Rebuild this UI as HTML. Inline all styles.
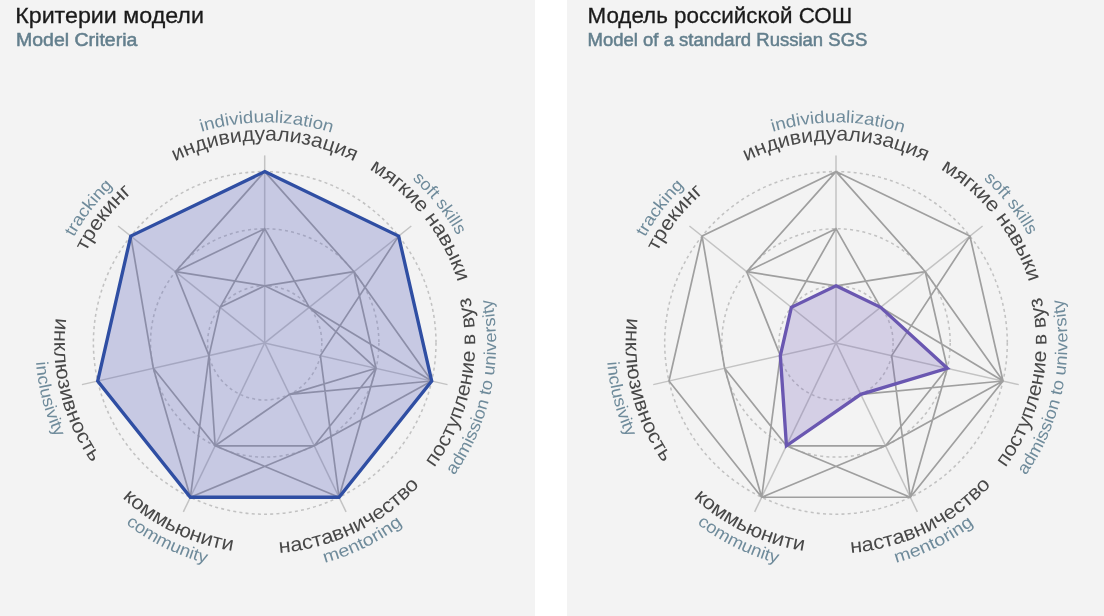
<!DOCTYPE html>
<html><head><meta charset="utf-8"><style>
html,body{margin:0;padding:0;background:#f3f3f3;}
svg{display:block;will-change:transform;}
.ru{font-family:"Liberation Sans",sans-serif;font-size:20px;fill:#484848;}
.en{font-family:"Liberation Sans",sans-serif;font-size:17px;fill:#6f8b9b;}
.t1{font-family:"Liberation Sans",sans-serif;font-size:21.6px;fill:#1a1a1a;stroke:#1a1a1a;stroke-width:0.3px;}
.t2{font-family:"Liberation Sans",sans-serif;font-size:17.5px;font-weight:normal;fill:#637f8d;stroke:#637f8d;stroke-width:0.5px;}
</style></head><body>
<svg width="1104" height="616" viewBox="0 0 1104 616">
<rect x="0" y="0" width="1104" height="616" fill="#f3f3f3"/>
<rect x="535" y="0" width="32" height="616" fill="#ffffff"/>
<text class="t1" x="15.2" y="23" textLength="188.7" lengthAdjust="spacingAndGlyphs">Критерии модели</text>
<text class="t2" x="16" y="45.6" textLength="121.4" lengthAdjust="spacingAndGlyphs">Model Criteria</text>
<text class="t1" x="587.5" y="23" textLength="264.7" lengthAdjust="spacingAndGlyphs">Модель российской СОШ</text>
<text class="t2" x="587.5" y="45.6" textLength="279.9" lengthAdjust="spacingAndGlyphs">Model of a standard Russian SGS</text>
<circle cx="264.7" cy="342.9" r="57.10" fill="none" stroke="#c2c2c2" stroke-width="1.55" stroke-dasharray="3 3.2"/>
<circle cx="264.7" cy="342.9" r="114.20" fill="none" stroke="#c2c2c2" stroke-width="1.55" stroke-dasharray="3 3.2"/>
<circle cx="264.7" cy="342.9" r="171.30" fill="none" stroke="#c2c2c2" stroke-width="1.55" stroke-dasharray="3 3.2"/>
<line x1="264.7" y1="342.9" x2="264.70" y2="155.40" stroke="#c3c3c3" stroke-width="1.5"/>
<line x1="264.7" y1="342.9" x2="411.29" y2="226.00" stroke="#c3c3c3" stroke-width="1.5"/>
<line x1="264.7" y1="342.9" x2="447.50" y2="384.62" stroke="#c3c3c3" stroke-width="1.5"/>
<line x1="264.7" y1="342.9" x2="346.05" y2="511.83" stroke="#c3c3c3" stroke-width="1.5"/>
<line x1="264.7" y1="342.9" x2="183.35" y2="511.83" stroke="#c3c3c3" stroke-width="1.5"/>
<line x1="264.7" y1="342.9" x2="81.90" y2="384.62" stroke="#c3c3c3" stroke-width="1.5"/>
<line x1="264.7" y1="342.9" x2="118.11" y2="226.00" stroke="#c3c3c3" stroke-width="1.5"/>
<path d="M130.77,236.10L264.70,171.60M175.41,271.70L264.70,171.60M175.41,271.70L264.70,228.70M220.06,307.30L264.70,228.70M175.41,271.70L264.70,285.80M220.06,307.30L264.70,285.80M264.70,171.60L398.63,236.10M264.70,171.60L353.99,271.70M264.70,285.80L353.99,271.70M264.70,228.70L309.34,307.30M264.70,285.80L309.34,307.30M398.63,236.10L320.37,355.61M398.63,236.10L431.71,381.02M353.99,271.70L376.04,368.31M353.99,271.70L431.71,381.02M309.34,307.30L431.71,381.02M309.34,307.30L376.04,368.31M431.71,381.02L289.47,394.35M431.71,381.02L314.25,445.79M431.71,381.02L339.02,497.24M376.04,368.31L314.25,445.79M376.04,368.31L339.02,497.24M320.37,355.61L339.02,497.24M376.04,368.31L289.47,394.35M339.02,497.24L190.38,497.24M339.02,497.24L215.15,445.79M314.25,445.79L215.15,445.79M314.25,445.79L190.38,497.24M289.47,394.35L215.15,445.79M190.38,497.24L97.69,381.02M190.38,497.24L153.36,368.31M190.38,497.24L209.03,355.61M215.15,445.79L153.36,368.31M215.15,445.79L209.03,355.61M97.69,381.02L130.77,236.10M153.36,368.31L130.77,236.10M209.03,355.61L175.41,271.70M209.03,355.61L220.06,307.30" fill="none" stroke="#9f9f9f" stroke-width="1.7" stroke-linecap="round"/>
<polygon points="264.70,171.60 398.63,236.10 431.71,381.02 339.02,497.24 190.38,497.24 97.69,381.02 130.77,236.10" fill="rgba(100,106,192,0.31)" stroke="none"/>
<polygon points="264.70,171.60 398.63,236.10 431.71,381.02 339.02,497.24 190.38,497.24 97.69,381.02 130.77,236.10" fill="none" stroke="#2f4ea3" stroke-width="3.35" stroke-linejoin="miter"/>
<path id="Lr0" d="M62.97,325.25 A202.5,202.5 0 0 1 466.43,325.25" fill="none"/>
<path id="Le0" d="M45.23,321.65 A220.5,220.5 0 0 1 484.53,325.71" fill="none"/>
<text class="ru"><textPath href="#Lr0" startOffset="50%" text-anchor="middle" textLength="185.7" lengthAdjust="spacingAndGlyphs">индивидуализация</textPath></text>
<text class="en"><textPath href="#Le0" startOffset="50%" text-anchor="middle" textLength="132.4" lengthAdjust="spacingAndGlyphs">individualization</textPath></text>
<path id="Lr1" d="M153.78,173.48 A202.5,202.5 0 0 1 403.35,490.49" fill="none"/>
<path id="Le1" d="M142.77,159.18 A220.5,220.5 0 0 1 416.68,502.66" fill="none"/>
<text class="ru"><textPath href="#Lr1" startOffset="50%" text-anchor="middle" textLength="146.6" lengthAdjust="spacingAndGlyphs">мягкие навыки</textPath></text>
<text class="en"><textPath href="#Le1" startOffset="50%" text-anchor="middle" textLength="72.6" lengthAdjust="spacingAndGlyphs">soft skills</textPath></text>
<path id="Lr2" d="M239.51,551.79 A210.4,210.4 0 0 0 325.78,141.56" fill="none"/>
<path id="Le2" d="M236.47,572.57 A231.4,231.4 0 0 0 332.38,121.62" fill="none"/>
<text class="ru"><textPath href="#Lr2" startOffset="50%" text-anchor="middle" textLength="179.7" lengthAdjust="spacingAndGlyphs">поступление в вуз</textPath></text>
<text class="en"><textPath href="#Le2" startOffset="50%" text-anchor="middle" textLength="185.5" lengthAdjust="spacingAndGlyphs">admission to university</textPath></text>
<path id="Lr3" d="M83.81,450.36 A210.4,210.4 0 0 0 461.50,268.48" fill="none"/>
<path id="Le3" d="M69.85,461.30 A228.0,228.0 0 0 0 477.15,260.14" fill="none"/>
<text class="ru"><textPath href="#Lr3" startOffset="50%" text-anchor="middle" textLength="159.5" lengthAdjust="spacingAndGlyphs">наставничество</textPath></text>
<text class="en"><textPath href="#Le3" startOffset="50%" text-anchor="middle" textLength="87.7" lengthAdjust="spacingAndGlyphs">mentoring</textPath></text>
<path id="Lr4" d="M67.90,268.48 A210.4,210.4 0 0 0 445.59,450.36" fill="none"/>
<path id="Le4" d="M52.19,260.29 A228.0,228.0 0 0 0 459.63,461.16" fill="none"/>
<text class="ru"><textPath href="#Lr4" startOffset="50%" text-anchor="middle" textLength="124.1" lengthAdjust="spacingAndGlyphs">коммьюнити</textPath></text>
<text class="en"><textPath href="#Le4" startOffset="50%" text-anchor="middle" textLength="89.9" lengthAdjust="spacingAndGlyphs">community</textPath></text>
<path id="Lr5" d="M196.49,143.86 A210.4,210.4 0 0 0 297.31,550.76" fill="none"/>
<path id="Le5" d="M187.84,126.55 A229.6,229.6 0 0 0 302.82,569.31" fill="none"/>
<text class="ru"><textPath href="#Lr5" startOffset="50%" text-anchor="middle" textLength="152.75" lengthAdjust="spacingAndGlyphs">инклюзивность</textPath></text>
<text class="en"><textPath href="#Le5" startOffset="50%" text-anchor="middle" textLength="78.2" lengthAdjust="spacingAndGlyphs">inclusivity</textPath></text>
<path id="Lr6" d="M128.34,489.89 A200.5,200.5 0 0 1 373.46,174.46" fill="none"/>
<path id="Le6" d="M117.24,503.87 A218.3,218.3 0 0 1 381.96,158.77" fill="none"/>
<text class="ru"><textPath href="#Lr6" startOffset="50%" text-anchor="middle" textLength="75.6" lengthAdjust="spacingAndGlyphs">трекинг</textPath></text>
<text class="en"><textPath href="#Le6" startOffset="50%" text-anchor="middle" textLength="65.0" lengthAdjust="spacingAndGlyphs">tracking</textPath></text>
<circle cx="836.0" cy="342.9" r="57.10" fill="none" stroke="#c2c2c2" stroke-width="1.55" stroke-dasharray="3 3.2"/>
<circle cx="836.0" cy="342.9" r="114.20" fill="none" stroke="#c2c2c2" stroke-width="1.55" stroke-dasharray="3 3.2"/>
<circle cx="836.0" cy="342.9" r="171.30" fill="none" stroke="#c2c2c2" stroke-width="1.55" stroke-dasharray="3 3.2"/>
<line x1="836.0" y1="342.9" x2="836.00" y2="155.40" stroke="#c3c3c3" stroke-width="1.5"/>
<line x1="836.0" y1="342.9" x2="982.59" y2="226.00" stroke="#c3c3c3" stroke-width="1.5"/>
<line x1="836.0" y1="342.9" x2="1018.80" y2="384.62" stroke="#c3c3c3" stroke-width="1.5"/>
<line x1="836.0" y1="342.9" x2="917.35" y2="511.83" stroke="#c3c3c3" stroke-width="1.5"/>
<line x1="836.0" y1="342.9" x2="754.65" y2="511.83" stroke="#c3c3c3" stroke-width="1.5"/>
<line x1="836.0" y1="342.9" x2="653.20" y2="384.62" stroke="#c3c3c3" stroke-width="1.5"/>
<line x1="836.0" y1="342.9" x2="689.41" y2="226.00" stroke="#c3c3c3" stroke-width="1.5"/>
<path d="M702.07,236.10L836.00,171.60M746.71,271.70L836.00,171.60M746.71,271.70L836.00,228.70M791.36,307.30L836.00,228.70M746.71,271.70L836.00,285.80M791.36,307.30L836.00,285.80M836.00,171.60L969.93,236.10M836.00,171.60L925.29,271.70M836.00,285.80L925.29,271.70M836.00,228.70L880.64,307.30M836.00,285.80L880.64,307.30M969.93,236.10L891.67,355.61M969.93,236.10L1003.01,381.02M925.29,271.70L947.34,368.31M925.29,271.70L1003.01,381.02M880.64,307.30L1003.01,381.02M880.64,307.30L947.34,368.31M1003.01,381.02L860.77,394.35M1003.01,381.02L885.55,445.79M1003.01,381.02L910.32,497.24M947.34,368.31L885.55,445.79M947.34,368.31L910.32,497.24M891.67,355.61L910.32,497.24M947.34,368.31L860.77,394.35M910.32,497.24L761.68,497.24M910.32,497.24L786.45,445.79M885.55,445.79L786.45,445.79M885.55,445.79L761.68,497.24M860.77,394.35L786.45,445.79M761.68,497.24L668.99,381.02M761.68,497.24L724.66,368.31M761.68,497.24L780.33,355.61M786.45,445.79L724.66,368.31M786.45,445.79L780.33,355.61M668.99,381.02L702.07,236.10M724.66,368.31L702.07,236.10M780.33,355.61L746.71,271.70M780.33,355.61L791.36,307.30" fill="none" stroke="#9f9f9f" stroke-width="1.7" stroke-linecap="round"/>
<polygon points="836.00,285.80 880.64,307.30 947.34,368.31 860.77,394.35 786.45,445.79 780.33,355.61 791.36,307.30" fill="rgba(118,98,186,0.25)" stroke="none"/>
<polygon points="836.00,285.80 880.64,307.30 947.34,368.31 860.77,394.35 786.45,445.79 780.33,355.61 791.36,307.30" fill="none" stroke="#6a57b1" stroke-width="3.35" stroke-linejoin="miter"/>
<path id="Rr0" d="M634.27,325.25 A202.5,202.5 0 0 1 1037.73,325.25" fill="none"/>
<path id="Re0" d="M616.53,321.65 A220.5,220.5 0 0 1 1055.83,325.71" fill="none"/>
<text class="ru"><textPath href="#Rr0" startOffset="50%" text-anchor="middle" textLength="185.7" lengthAdjust="spacingAndGlyphs">индивидуализация</textPath></text>
<text class="en"><textPath href="#Re0" startOffset="50%" text-anchor="middle" textLength="132.4" lengthAdjust="spacingAndGlyphs">individualization</textPath></text>
<path id="Rr1" d="M725.08,173.48 A202.5,202.5 0 0 1 974.65,490.49" fill="none"/>
<path id="Re1" d="M714.07,159.18 A220.5,220.5 0 0 1 987.98,502.66" fill="none"/>
<text class="ru"><textPath href="#Rr1" startOffset="50%" text-anchor="middle" textLength="146.6" lengthAdjust="spacingAndGlyphs">мягкие навыки</textPath></text>
<text class="en"><textPath href="#Re1" startOffset="50%" text-anchor="middle" textLength="72.6" lengthAdjust="spacingAndGlyphs">soft skills</textPath></text>
<path id="Rr2" d="M810.81,551.79 A210.4,210.4 0 0 0 897.08,141.56" fill="none"/>
<path id="Re2" d="M807.77,572.57 A231.4,231.4 0 0 0 903.68,121.62" fill="none"/>
<text class="ru"><textPath href="#Rr2" startOffset="50%" text-anchor="middle" textLength="179.7" lengthAdjust="spacingAndGlyphs">поступление в вуз</textPath></text>
<text class="en"><textPath href="#Re2" startOffset="50%" text-anchor="middle" textLength="185.5" lengthAdjust="spacingAndGlyphs">admission to university</textPath></text>
<path id="Rr3" d="M655.11,450.36 A210.4,210.4 0 0 0 1032.80,268.48" fill="none"/>
<path id="Re3" d="M641.15,461.30 A228.0,228.0 0 0 0 1048.45,260.14" fill="none"/>
<text class="ru"><textPath href="#Rr3" startOffset="50%" text-anchor="middle" textLength="159.5" lengthAdjust="spacingAndGlyphs">наставничество</textPath></text>
<text class="en"><textPath href="#Re3" startOffset="50%" text-anchor="middle" textLength="87.7" lengthAdjust="spacingAndGlyphs">mentoring</textPath></text>
<path id="Rr4" d="M639.20,268.48 A210.4,210.4 0 0 0 1016.89,450.36" fill="none"/>
<path id="Re4" d="M623.49,260.29 A228.0,228.0 0 0 0 1030.93,461.16" fill="none"/>
<text class="ru"><textPath href="#Rr4" startOffset="50%" text-anchor="middle" textLength="124.1" lengthAdjust="spacingAndGlyphs">коммьюнити</textPath></text>
<text class="en"><textPath href="#Re4" startOffset="50%" text-anchor="middle" textLength="89.9" lengthAdjust="spacingAndGlyphs">community</textPath></text>
<path id="Rr5" d="M767.79,143.86 A210.4,210.4 0 0 0 868.61,550.76" fill="none"/>
<path id="Re5" d="M759.14,126.55 A229.6,229.6 0 0 0 874.12,569.31" fill="none"/>
<text class="ru"><textPath href="#Rr5" startOffset="50%" text-anchor="middle" textLength="152.75" lengthAdjust="spacingAndGlyphs">инклюзивность</textPath></text>
<text class="en"><textPath href="#Re5" startOffset="50%" text-anchor="middle" textLength="78.2" lengthAdjust="spacingAndGlyphs">inclusivity</textPath></text>
<path id="Rr6" d="M699.64,489.89 A200.5,200.5 0 0 1 944.76,174.46" fill="none"/>
<path id="Re6" d="M688.54,503.87 A218.3,218.3 0 0 1 953.26,158.77" fill="none"/>
<text class="ru"><textPath href="#Rr6" startOffset="50%" text-anchor="middle" textLength="75.6" lengthAdjust="spacingAndGlyphs">трекинг</textPath></text>
<text class="en"><textPath href="#Re6" startOffset="50%" text-anchor="middle" textLength="65.0" lengthAdjust="spacingAndGlyphs">tracking</textPath></text>
</svg>
</body></html>
